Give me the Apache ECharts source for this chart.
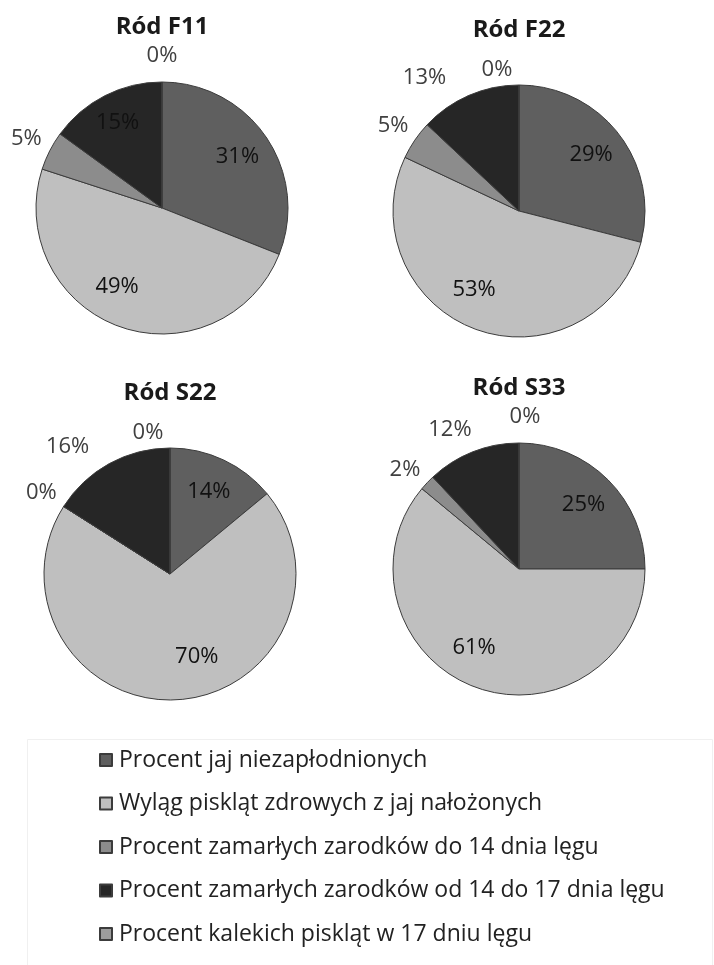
<!DOCTYPE html>
<html>
<head>
<meta charset="utf-8">
<script src="https://cdn.jsdelivr.net/npm/echarts@6/dist/echarts.min.js"></script>
<style>
  html, body { margin: 0; padding: 0; background: #fff; }
  #chart { width: 714px; height: 965px; }
</style>
</head>
<body>
<div id="chart"></div>
<script>
// Categories shared by every pie (legend order = clockwise slice order from 12 o'clock)
const categories = [
  'Procent jaj niezapłodnionych',
  'Wyląg piskląt zdrowych z jaj nałożonych',
  'Procent zamarłych zarodków do 14 dnia lęgu',
  'Procent zamarłych zarodków od 14 do 17 dnia lęgu',
  'Procent kalekich piskląt w 17 dniu lęgu'
];

// Per-line percentages, same order as categories
const titles = ['Ród F11', 'Ród F22', 'Ród S22', 'Ród S33'];
const valuesF11 = [31, 49, 5, 15, 0];
const valuesF22 = [29, 53, 5, 13, 0];
const valuesS22 = [14, 70, 0, 16, 0];
const valuesS33 = [25, 61, 2, 12, 0];

// ---- styling / layout ----
const colors = ['#5f5f5f', '#bfbfbf', '#8c8c8c', '#262626', '#9d9d9d'];
const FONT = '"Open Sans", "Noto Sans", sans-serif';
const R = 126;

const pies = [
  { title: titles[0], values: valuesF11, center: [162, 208], titleTop: 15,
    outside: [2, 4], nudge: { 1: [-14, -7], 3: [-3, -4] } },
  { title: titles[1], values: valuesF22, center: [519, 211], titleTop: 18,
    outside: [2, 3, 4], nudge: { 1: [-14, -7], 3: [-34, 7], 4: [-22, 11] } },
  { title: titles[2], values: valuesS22, center: [170, 574], titleTop: 381,
    outside: [2, 3, 4], nudge: { 1: [21, -8], 3: [-29, 6], 4: [-22, 11] } },
  { title: titles[3], values: valuesS33, center: [519, 569], titleTop: 376,
    outside: [2, 3, 4], nudge: { 1: [-14, -7], 2: [-3, 5], 3: [-13, 2], 4: [6, 0] } }
];

const series = [];
const title = [];

pies.forEach(function (p) {
  title.push({
    text: p.title,
    left: p.center[0],
    top: p.titleTop,
    textAlign: 'center',
    padding: 0,
    textStyle: { fontFamily: FONT, fontSize: 24, fontWeight: 'bold', color: '#1a1a1a' }
  });

  // visible slices
  series.push({
    type: 'pie',
    center: p.center,
    radius: [0, R],
    startAngle: 90,
    clockwise: true,
    silent: true,
    avoidLabelOverlap: false,
    label: { show: false },
    labelLine: { show: false },
    emphasis: { disabled: true },
    itemStyle: { borderColor: '#3c3c3c', borderWidth: 1 },
    data: categories.map(function (name, i) {
      return { name: name, value: p.values[i], itemStyle: { color: colors[i] } };
    })
  });

  // label carriers: an inner ring for labels on the slices, an outer ring for labels beside them
  [['in', [0, R * 1.40]], ['out', [R, R * 1.37]]].forEach(function (ring) {
    const isOut = ring[0] === 'out';
    series.push({
      type: 'pie',
      center: p.center,
      radius: ring[1],
      startAngle: 90,
      clockwise: true,
      silent: true,
      avoidLabelOverlap: false,
      emphasis: { disabled: true },
      labelLine: { show: false },
      itemStyle: { color: 'rgba(0,0,0,0)', borderWidth: 0 },
      label: {
        position: 'inside',
        fontFamily: FONT,
        fontSize: 22,
        color: isOut ? '#404040' : '#111111',
        formatter: function (d) { return d.value + '%'; }
      },
      data: categories.map(function (name, i) {
        const show = (p.outside.indexOf(i) >= 0) === isOut;
        return {
          name: name,
          value: p.values[i],
          label: { show: show, offset: p.nudge[i] || [0, 0] }
        };
      })
    });
  });
});

const chart = echarts.init(document.getElementById('chart'), null, { renderer: 'canvas' });
chart.setOption({
  backgroundColor: '#ffffff',
  animation: false,
  title: title,
  legend: {
    data: categories,
    orient: 'vertical',
    left: 99,
    top: 748,
    padding: 0,
    itemGap: 19.5,
    itemWidth: 12,
    itemHeight: 12,
    icon: 'rect',
    selectedMode: false,
    textStyle: { fontFamily: FONT, fontSize: 23, color: '#222222', lineHeight: 24, padding: [0, 0, 0, 2] }
  },
  graphic: [{
    type: 'rect',
    silent: true,
    shape: { x: 27.5, y: 739.5, width: 685, height: 240 },
    style: { fill: 'none', stroke: '#f0f0f0', lineWidth: 1 }
  }],
  series: series
});
</script>
</body>
</html>
